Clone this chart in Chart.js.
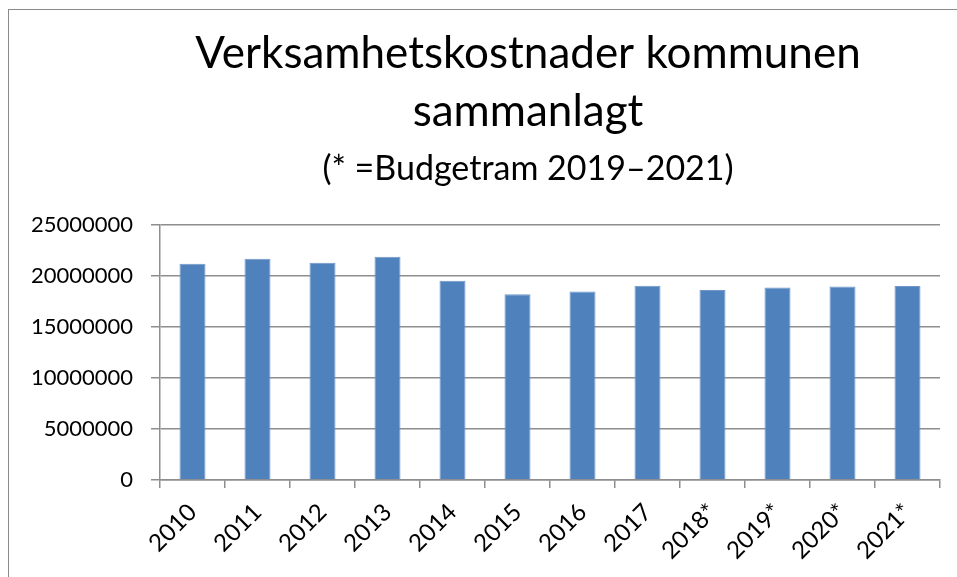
<!DOCTYPE html>
<html>
<head>
<meta charset="utf-8">
<script src="https://cdn.jsdelivr.net/npm/chart.js@4/dist/chart.umd.min.js"></script>
<style>
    html, body { margin: 0; padding: 0; background: #fff; overflow: hidden; }
    #frame { position: absolute; left: 8px; top: 9px; width: 1000px; height: 1000px; border: 1px solid #8a8a8a; }
    #wrap { position: absolute; left: 0; top: 0; width: 957px; height: 577px; }
</style>
</head>
<body>
<div id="frame"></div>
<div id="wrap"><canvas id="barChart"></canvas></div>
<script>
// Chart data
var years = ['2010', '2011', '2012', '2013', '2014', '2015', '2016', '2017', '2018*', '2019*', '2020*', '2021*'];
var costs = [21190000, 21680000, 21290000, 21870000, 19530000, 18190000, 18460000, 19040000, 18620000, 18850000, 18950000, 19010000];
var yTicks = [0, 5000000, 10000000, 15000000, 20000000, 25000000];

var fontName = 'Lato, "Liberation Sans", sans-serif';
var gridColor = '#8e8e8e';

// the title in the original sits a bit right of the canvas centre
var shiftTitle = {
    id: 'shiftTitle',
    afterLayout: function(chart) {
        chart.boxes.forEach(function(box) {
            if (box.options && box.options.text !== undefined && box.fullSize) {
                box.left += 58;
                box.right += 58;
            }
        });
    },
};

document.addEventListener("DOMContentLoaded", function() {
    var ctx = document.getElementById('barChart').getContext('2d');

    new Chart(ctx, {
        type: 'bar',
        data: {
            labels: years,
            datasets: [{
                label: 'Verksamhetskostnader',
                data: costs,
                backgroundColor: '#4f81bd',
                borderColor: '#6f97c8',
                borderWidth: 1,
                categoryPercentage: 1.0,
                barPercentage: 0.4,
            }],
        },
        plugins: [shiftTitle],
        options: {
            responsive: true,
            maintainAspectRatio: false,
            animation: false,
            layout: { padding: { left: 0, right: 17, top: 0, bottom: 0 } },
            plugins: {
                legend: { display: false },
                tooltip: { enabled: false },
                title: {
                    display: true,
                    text: ['Verksamhetskostnader kommunen', 'sammanlagt'],
                    color: '#000',
                    font: { family: fontName, size: 44, weight: 'normal', lineHeight: 58 / 44 },
                    padding: { top: 25, bottom: 0 },
                },
                subtitle: {
                    display: true,
                    text: '(* =Budgetram 2019\u20132021)',
                    color: '#000',
                    font: { family: fontName, size: 34, weight: 'normal', lineHeight: 1.2 },
                    padding: { top: 8, bottom: 35 },
                },
            },
            scales: {
                x: {
                    type: 'category',
                    grid: {
                        drawOnChartArea: false,
                        drawTicks: true,
                        tickLength: 8,
                        color: gridColor,
                        lineWidth: 1.5,
                    },
                    border: { display: true, color: gridColor, width: 1.5 },
                    ticks: {
                        color: '#000',
                        font: { family: fontName, size: 24 },
                        minRotation: 45,
                        maxRotation: 45,
                        padding: 10,
                    },
                    afterFit: function(scale) { scale.height = 97; },
                },
                y: {
                    min: 0,
                    max: 25000000,
                    afterBuildTicks: function(scale) {
                        scale.ticks = yTicks.map(function(v) { return { value: v }; });
                    },
                    grid: {
                        color: gridColor,
                        lineWidth: 1.5,
                        tickLength: 9,
                    },
                    border: { display: true, color: gridColor, width: 1.5 },
                    ticks: {
                        color: '#000',
                        font: { family: fontName, size: 22 },
                        padding: 18,
                        callback: function(value) { return String(value); },
                    },
                    afterFit: function(scale) { scale.width = 160; },
                },
            },
        },
    });
});
</script>
</body>
</html>
